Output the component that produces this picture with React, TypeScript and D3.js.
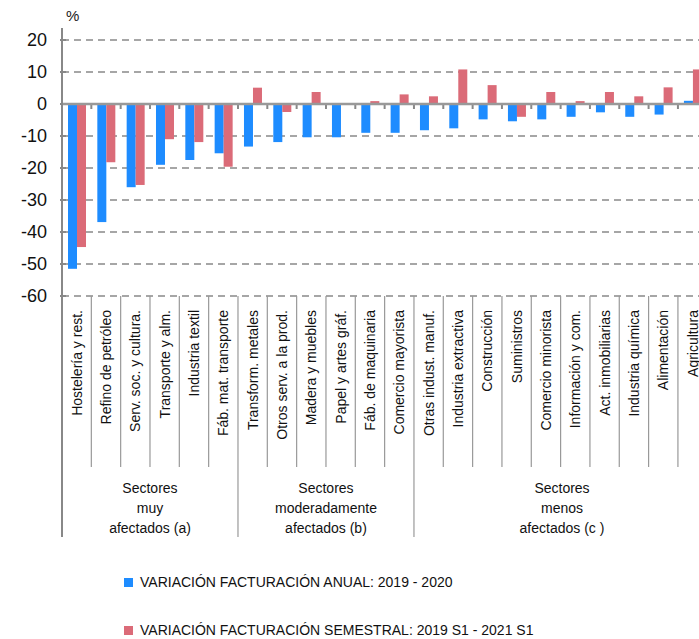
import * as d3 from 'd3';

const categories = [
  'Hostelería y rest.', 'Refino de petróleo', 'Serv. soc. y cultura.', 'Transporte y alm.',
  'Industria textil', 'Fáb. mat. transporte', 'Transform. metales', 'Otros serv. a la prod.',
  'Madera y muebles', 'Papel y artes gráf.', 'Fáb. de maquinaria', 'Comercio mayorista',
  'Otras indust. manuf.', 'Industria extractiva', 'Construcción', 'Suministros',
  'Comercio minorista', 'Información y com.', 'Act. inmobiliarias', 'Industria química',
  'Alimentación', 'Agricultura',
];
const anual = [-51.5, -36.9, -26, -19, -17.5, -15.4, -13.3, -11.9, -10.4, -10.4, -9, -9,
  -8.2, -7.6, -4.8, -5.4, -4.8, -4, -2.6, -4, -3.3, 1];
const semestral = [-44.7, -18.2, -25.3, -11, -11.9, -19.6, 5.1, -2.5, 3.75, 0, 0.9, 3,
  2.4, 10.8, 5.9, -4, 3.75, 0.9, 3.75, 2.4, 5.2, 10.8];
const groups = [
  { lines: ['Sectores', 'muy', 'afectados (a)'], from: 0, to: 6 },
  { lines: ['Sectores', 'moderadamente', 'afectados (b)'], from: 6, to: 12 },
  { lines: ['Sectores', 'menos', 'afectados (c )'], from: 12, to: 22 },
];
const yTicks = [20, 10, 0, -10, -20, -30, -40, -50, -60];
const legend = [
  { label: 'VARIACIÓN FACTURACIÓN ANUAL: 2019 - 2020', color: '#1e8cff' },
  { label: 'VARIACIÓN FACTURACIÓN SEMESTRAL: 2019 S1 - 2021 S1', color: '#db6b78' },
];

export default function App() {
  const W = 699, H = 639;
  const left = 62;
  const step = 29.33;
  const x = d3.scaleBand<number>().domain(d3.range(categories.length))
    .range([left, left + step * categories.length]);
  const y = d3.scaleLinear().domain([-60, 20]).range([296, 40]);
  const font = '"Liberation Sans", Arial, sans-serif';
  const barW = 9;
  return (
    <svg width={W} height={H} style={{ position: 'absolute', left: 0, top: 0 }} fontFamily={font}>
      <rect width={W} height={H} fill="#fff" />
      <text x={66} y={21} fontSize={15} fill="#222">%</text>
      {yTicks.map(t => (
        <g key={t}>
          {t !== 0 && <line x1={left} x2={W} y1={y(t)} y2={y(t)} stroke="#a6a6a6" strokeWidth={2} strokeDasharray="7 5" />}
          <line x1={left - 2} x2={left + 4} y1={y(t)} y2={y(t)} stroke="#888" strokeWidth={2} />
          <text x={47} y={y(t)} dy="0.35em" textAnchor="end" fontSize={18} fill="#111">{t}</text>
        </g>
      ))}
      {categories.map((c, i) => {
        const x0 = x(i)!;
        return (
          <g key={c}>
            <rect x={x0 + 6} width={barW} y={Math.min(y(0), y(anual[i]))} height={Math.abs(y(anual[i]) - y(0))} fill="#1e8cff" />
            <rect x={x0 + 6 + barW} width={barW} y={Math.min(y(0), y(semestral[i]))} height={Math.abs(y(semestral[i]) - y(0))} fill="#db6b78" />
            <text transform={`translate(${x0 + step / 2 + 5},${310}) rotate(-90)`} textAnchor="end" fontSize={14} fill="#111">{c}</text>
            {i > 0 && <line x1={x0} x2={x0} y1={y(0)} y2={y(0) + 5} stroke="#888" strokeWidth={2} />}
            {i > 0 && <line x1={x0} x2={x0} y1={y(-60)} y2={467} stroke="#999" strokeWidth={1.2} />}
          </g>
        );
      })}
      <line x1={left} x2={W} y1={y(0)} y2={y(0)} stroke="#999" strokeWidth={2.5} />
      <line x1={left} x2={left} y1={28} y2={537} stroke="#888" strokeWidth={2} />
      {groups.map(g => {
        const x0 = x(g.from)!, x1 = x(g.to - 1)! + step;
        const cx = g.to === 22 ? 562 : (x0 + x1) / 2;
        return (
          <g key={g.from}>
            {g.from > 0 && <line x1={x0} x2={x0} y1={467} y2={537} stroke="#999" strokeWidth={1.2} />}
            {g.lines.map((l, k) => (
              <text key={k} x={cx} y={493 + k * 20} textAnchor="middle" fontSize={14} fill="#111">{l}</text>
            ))}
          </g>
        );
      })}
      {legend.map((l, i) => (
        <g key={l.label}>
          <rect x={124} y={578 + i * 48} width={9} height={9} fill={l.color} />
          <text x={140} y={587 + i * 48} fontSize={14} fill="#111">{l.label}</text>
        </g>
      ))}
    </svg>
  );
}
